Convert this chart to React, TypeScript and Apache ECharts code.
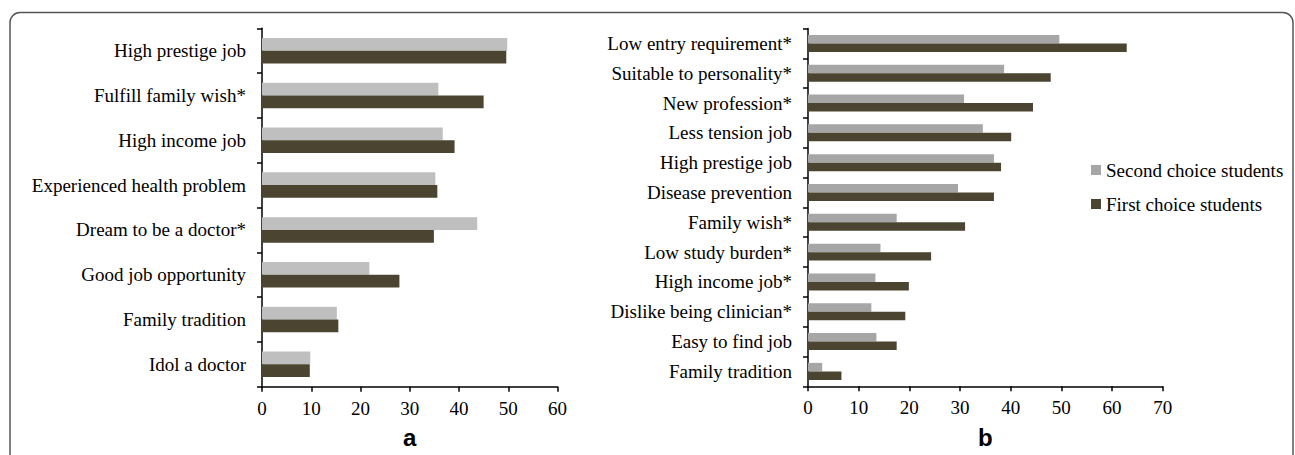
import React, { useEffect, useRef } from "react";
import * as echarts from "echarts";

const catsA = [
  "High prestige job",
  "Fulfill family wish*",
  "High income job",
  "Experienced health problem",
  "Dream to be a doctor*",
  "Good job opportunity",
  "Family tradition",
  "Idol a doctor",
];
const secondA = [49.8, 35.8, 36.7, 35.2, 43.7, 21.8, 15.2, 9.8];
const firstA = [49.6, 45.0, 39.1, 35.6, 34.9, 27.9, 15.5, 9.7];

const catsB = [
  "Low entry requirement*",
  "Suitable to personality*",
  "New profession*",
  "Less tension job",
  "High prestige job",
  "Disease prevention",
  "Family wish*",
  "Low study burden*",
  "High income job*",
  "Dislike being clinician*",
  "Easy to find job",
  "Family tradition",
];
const secondB = [49.6, 38.7, 30.8, 34.5, 36.7, 29.6, 17.5, 14.3, 13.3, 12.5, 13.5, 2.8];
const firstB = [62.9, 47.9, 44.4, 40.1, 38.1, 36.7, 31.0, 24.3, 19.9, 19.2, 17.5, 6.6];

const SECOND = "Second choice students";
const FIRST = "First choice students";
const SERIF = "Liberation Serif";
const SANS = "Liberation Sans";
const DARK = "#4a4430";
const LIGHT_A = "#bfbfbf";
const LIGHT_B = "#a6a6a6";

export default function App() {
  const ref = useRef<HTMLDivElement>(null);
  useEffect(() => {
    if (!ref.current) return;
    const chart = echarts.init(ref.current, undefined, { renderer: "svg" });
    const axisLine = { show: true, lineStyle: { color: "#000", width: 1.5 } };
    const catAxis = (gridIndex: number, data: string[]) => ({
      type: "category",
      gridIndex,
      data,
      inverse: true,
      axisLine,
      axisTick: { show: true, length: 5, lineStyle: { color: "#000", width: 1.5 } },
      axisLabel: { color: "#000", fontFamily: SERIF, fontSize: 19, margin: 16 },
    });
    const valAxis = (gridIndex: number, max: number) => ({
      type: "value",
      gridIndex,
      min: 0,
      max,
      interval: 10,
      axisLine,
      axisTick: { show: true, length: 5, lineStyle: { color: "#000", width: 1.5 } },
      axisLabel: { color: "#000", fontFamily: SERIF, fontSize: 19, margin: 12 },
      splitLine: { show: false },
    });
    const bar = (name: string, data: number[], color: string, idx: number) => ({
      type: "bar",
      name,
      data,
      xAxisIndex: idx,
      yAxisIndex: idx,
      barGap: "0%",
      barCategoryGap: "43%",
      itemStyle: { color },
    });
    chart.setOption({
      animation: false,
      textStyle: { fontFamily: SERIF },
      grid: [
        { left: 262, top: 28.3, width: 295.5, height: 358.4 },
        { left: 808, top: 28.5, width: 354.7, height: 357.8 },
      ],
      xAxis: [valAxis(0, 60), valAxis(1, 70)],
      yAxis: [catAxis(0, catsA), catAxis(1, catsB)],
      legend: {
        orient: "vertical",
        left: 1086,
        top: 155.5,
        itemWidth: 10,
        itemHeight: 10,
        itemGap: 15,
        icon: "rect",
        textStyle: { color: "#000", fontFamily: SERIF, fontSize: 19, lineHeight: 19 },
        data: [
          { name: SECOND, itemStyle: { color: LIGHT_B } },
          { name: FIRST, itemStyle: { color: DARK } },
        ],
      },
      series: [
        bar(SECOND, secondB, LIGHT_B, 1),
        bar(FIRST, firstB, DARK, 1),
        bar(SECOND, secondA, LIGHT_A, 0),
        bar(FIRST, firstA, DARK, 0),
      ],
      graphic: [
        {
          type: "rect",
          shape: { x: 10, y: 12.5, width: 1283, height: 470, r: 10 },
          style: { fill: "none", stroke: "#555", lineWidth: 1.5 },
          silent: true,
        },
        {
          type: "text",
          left: 403,
          top: 425,
          style: {
            text: "a",
            fontFamily: SANS,
            fontWeight: "bold",
            fontSize: 24,
            fill: "#000",
          },
        },
        {
          type: "text",
          left: 978,
          top: 425,
          style: {
            text: "b",
            fontFamily: SANS,
            fontWeight: "bold",
            fontSize: 24,
            fill: "#000",
          },
        },
      ],
    });
    return () => chart.dispose();
  }, []);
  return (
    <div
      ref={ref}
      style={{ position: "absolute", left: 0, top: 0, width: 1295, height: 455, background: "#fff" }}
    />
  );
}
